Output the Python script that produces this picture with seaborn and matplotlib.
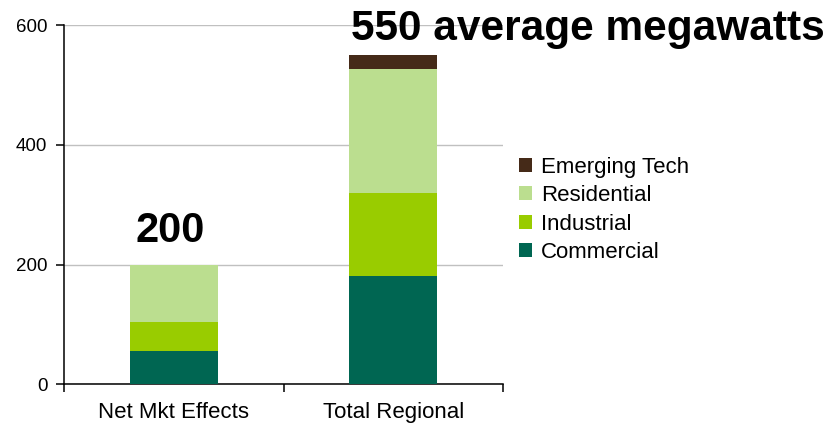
import matplotlib
matplotlib.use("Agg")
import matplotlib.pyplot as plt
import seaborn as sns
import pandas as pd

# data (average megawatts)
categories = ["Net Mkt Effects", "Total Regional"]
commercial = [56, 181]
industrial = [48, 138]
residential = [95, 207]
emerging_tech = [1, 24]

series_names = ["Commercial", "Industrial", "Residential", "Emerging Tech"]
colors = {
    "Commercial": "#006652",
    "Industrial": "#99CC00",
    "Residential": "#BBDE8F",
    "Emerging Tech": "#452A18",
}

df = pd.DataFrame({
    "category": categories,
    "Commercial": commercial,
    "Industrial": industrial,
    "Residential": residential,
    "Emerging Tech": emerging_tech,
})
# cumulative tops for stacked drawing
cum = df[series_names].cumsum(axis=1)
cum["category"] = df["category"]

sns.set_theme(style="white")
plt.rcParams["font.family"] = ["Liberation Sans", "DejaVu Sans"]

fig = plt.figure(figsize=(8.38, 4.23), dpi=100)
ax = fig.add_axes([64 / 838, 1 - 384.3 / 423, 439 / 838, 359.3 / 423])

# draw tallest layer first so the lower layers overlay it
for name in reversed(series_names):
    sns.barplot(data=cum, x="category", y=name, color=colors[name],
                width=0.4, saturation=1, label=name, ax=ax, zorder=3,
                linewidth=0, edgecolor="none")

ax.set_xlim(-0.5, 1.5)
ax.set_ylim(0, 600)
ax.set_yticks([0, 200, 400, 600])
ax.yaxis.grid(True, color="#C0C0C0", linewidth=1.0, zorder=0)
ax.set_axisbelow(True)
ax.set_xlabel("")
ax.set_ylabel("")

# category boundaries get the tick marks, labels sit at centres
ax.set_xticks([-0.5, 0.5, 1.5])
ax.set_xticklabels([])
ax.set_xticks([0, 1], minor=True)
ax.set_xticklabels(categories, minor=True, fontsize=16, color="black")
ax.tick_params(axis="x", which="major", direction="out", length=6, width=1.1,
               color="black", bottom=True)
ax.tick_params(axis="x", which="minor", length=0, pad=13)
ax.tick_params(axis="y", direction="out", length=6, width=1.1, color="black",
               left=True, labelsize=13.5, labelcolor="black", pad=6)

for side in ["top", "right"]:
    ax.spines[side].set_visible(False)
for side in ["left", "bottom"]:
    ax.spines[side].set_color("black")
    ax.spines[side].set_linewidth(1.1)

totals = df[series_names].sum(axis=1)
ax.text(-0.016, totals[0] + 38, f"{totals[0]:.0f}", ha="center", va="baseline",
        fontsize=30, fontweight="bold", color="black")
fig.text(351 / 838, 1 - 40 / 423, f"{totals[1]:.0f} average megawatts",
         ha="left", va="baseline", fontsize=30.5, fontweight="bold", color="black")

handles, labels = ax.get_legend_handles_labels()
if ax.legend_:
    ax.legend_.remove()
fig.legend(handles, labels, loc="upper left", bbox_to_anchor=(510 / 838, 1 - 148 / 423),
           frameon=False, fontsize=16, handlelength=0.6, handleheight=0.6,
           handletextpad=0.4, labelspacing=0.33, borderaxespad=0,
           labelcolor="black")

fig.savefig("out.png", dpi=100)
